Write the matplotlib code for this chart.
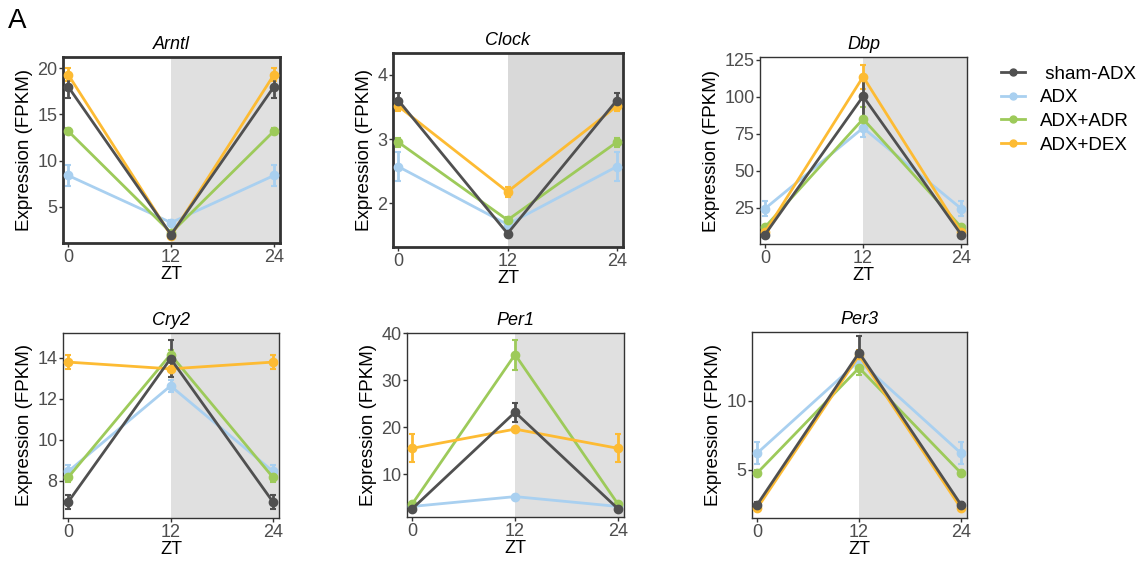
import numpy as np
import matplotlib.pyplot as plt
from matplotlib.lines import Line2D

plt.rcParams['font.family'] = ['Liberation Sans', 'DejaVu Sans']

# -----------------------------
# Data (ZT 24 repeats ZT 0)
# -----------------------------
zt = [0, 12, 24]
groups = [" sham-ADX", "ADX", "ADX+ADR", "ADX+DEX"]
colors = ["#505050", "#a9d0f0", "#9dca5a", "#fdbb33"]
genes = ["Arntl", "Clock", "Dbp", "Cry2", "Per1", "Per3"]

# rows: sham-ADX, ADX, ADX+ADR, ADX+DEX
arntl_mean = [[18.0, 2.0, 18.0], [8.4, 3.3, 8.4], [13.2, 2.2, 13.2], [19.3, 1.9, 19.3]]
arntl_err = [[1.2, 0.2, 1.2], [1.1, 0.3, 1.1], [0.3, 0.2, 0.3], [0.7, 0.2, 0.7]]

clock_mean = [[3.60, 1.53, 3.60], [2.57, 1.67, 2.57], [2.95, 1.74, 2.95], [3.51, 2.18, 3.51]]
clock_err = [[0.12, 0.06, 0.12], [0.23, 0.05, 0.23], [0.07, 0.04, 0.07], [0.07, 0.08, 0.07]]

dbp_mean = [[7.0, 100.3, 7.0], [24.5, 79.0, 24.5], [12.0, 85.0, 12.0], [8.5, 113.5, 8.5]]
dbp_err = [[1.5, 14.0, 1.5], [5.0, 6.0, 5.0], [1.5, 8.0, 1.5], [1.5, 8.0, 1.5]]

cry2_mean = [[6.95, 13.95, 6.95], [8.44, 12.62, 8.44], [8.15, 14.15, 8.15], [13.78, 13.45, 13.78]]
cry2_err = [[0.35, 0.9, 0.35], [0.3, 0.3, 0.3], [0.2, 0.2, 0.2], [0.35, 0.4, 0.35]]

per1_mean = [[2.6, 23.2, 2.6], [3.1, 5.2, 3.1], [3.6, 35.5, 3.6], [15.5, 19.6, 15.5]]
per1_err = [[0.3, 2.0, 0.3], [0.2, 0.3, 0.2], [0.3, 3.2, 0.3], [3.0, 0.5, 3.0]]

per3_mean = [[2.46, 13.5, 2.46], [6.2, 12.9, 6.2], [4.76, 12.4, 4.76], [2.2, 13.3, 2.2]]
per3_err = [[0.2, 1.2, 0.2], [0.8, 0.4, 0.8], [0.2, 0.5, 0.2], [0.15, 0.4, 0.15]]

means = [arntl_mean, clock_mean, dbp_mean, cry2_mean, per1_mean, per3_mean]
errs = [arntl_err, clock_err, dbp_err, cry2_err, per1_err, per3_err]

yticks = [[5, 10, 15, 20], [2, 3, 4], [25, 50, 75, 100, 125],
          [8, 10, 12, 14], [10, 20, 30, 40], [5, 10]]
ylims = [(1.1, 21.2), (1.32, 4.34), (0.7, 126.8),
         (6.17, 15.2), (0.85, 40.1), (1.5, 15.0)]
shade = ["#e0e0e0", "#d9d9d9", "#e0e0e0", "#e0e0e0", "#e0e0e0", "#e0e0e0"]
frame_lw = [2.0, 2.0, 1.0, 1.0, 1.0, 1.0]

# axes boxes in pixels: left, right, top, bottom
W, H = 1137, 561
boxes = [(63, 280, 57, 243), (393, 623, 53, 247), (760, 967, 57, 244),
         (63, 279, 333, 518), (407, 624, 333, 517), (752, 967, 332, 518)]

fig = plt.figure(figsize=(W / 100, H / 100), dpi=100)

draw_order = [1, 2, 3, 0]

for i, gene in enumerate(genes):
    l, r, t, b = boxes[i]
    ax = fig.add_axes([l / W, 1 - b / H, (r - l) / W, (b - t) / H])
    ax.axvspan(12, 30, color=shade[i], zorder=0, lw=0)
    for g in draw_order:
        ax.errorbar(zt, means[i][g], yerr=errs[i][g], color=colors[g], lw=2,
                    marker='o', ms=6, capsize=2, elinewidth=2, capthick=1.5,
                    zorder=3 + g * 0)
    ax.set_xlim(-0.6, 24.7)
    ax.set_ylim(*ylims[i])
    ax.set_xticks(zt)
    ax.set_yticks(yticks[i])
    ax.tick_params(direction='out', length=3, width=1, colors='#333333',
                   labelcolor='#4d4d4d', labelsize=13, pad=1)
    for sp in ax.spines.values():
        sp.set_linewidth(frame_lw[i])
        sp.set_color('#333333')
    ax.set_title(gene, style='italic', fontsize=13, pad=6)
    ax.set_xlabel("ZT", fontsize=13, labelpad=0)
    ax.set_ylabel("Expression (FPKM)", fontsize=13.5, labelpad=3)

handles = [Line2D([0], [0], color=c, lw=2, marker='o', ms=5) for c in colors]
fig.legend(handles, groups, loc='upper left', bbox_to_anchor=(993 / W, 1 - 58 / H),
           frameon=False, fontsize=13.5, handlelength=1.3, handletextpad=0.8,
           labelspacing=0.35, borderaxespad=0)

fig.text(8 / W, 1 - 8 / H, "A", fontsize=20, va='top', ha='left')

fig.savefig("out.png", dpi=100)
